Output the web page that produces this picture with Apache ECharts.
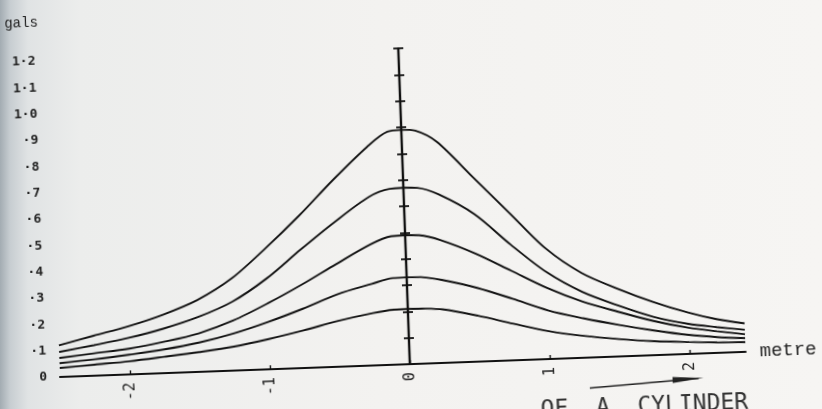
<!DOCTYPE html>
<html>
<head>
<meta charset="utf-8">
<script src="https://cdn.jsdelivr.net/npm/echarts@6/dist/echarts.min.js"></script>
<style>
  html, body { margin: 0; padding: 0; width: 822px; height: 409px; overflow: hidden;
    background: linear-gradient(to right, #a3acb2 0px, #c7cdd1 10px, #e0e3e4 28px, #ecedec 80px, #f3f2f0 380px, #f6f5f3 100%); }
  /* the plotter sheet sits slightly askew */
  #chart { position: absolute; left: -20px; top: -20px; width: 862px; height: 449px; transform: rotate(-2.1deg); }
</style>
</head>
<body>
<div id="chart"></div>
<script>
// horizontal distance from the cylinder axis, metres
const distance = [-2.5, -2.25, -2, -1.75, -1.5, -1.25, -1, -0.75, -0.5, -0.25, -0.1, 0, 0.1, 0.25, 0.5, 0.75, 1, 1.25, 1.5, 1.75, 2, 2.2, 2.4];

// gravity anomaly profiles, gals (largest to smallest)
const profile1 = [0.12, 0.152, 0.183, 0.222, 0.273, 0.35, 0.46, 0.58, 0.71, 0.83, 0.885, 0.89, 0.885, 0.84, 0.70, 0.56, 0.42, 0.322, 0.258, 0.203, 0.157, 0.128, 0.108];
const profile2 = [0.095, 0.116, 0.139, 0.169, 0.208, 0.262, 0.345, 0.45, 0.55, 0.64, 0.668, 0.67, 0.668, 0.64, 0.56, 0.44, 0.33, 0.25, 0.194, 0.146, 0.114, 0.098, 0.084];
const profile3 = [0.072, 0.085, 0.098, 0.119, 0.146, 0.19, 0.25, 0.317, 0.39, 0.46, 0.488, 0.49, 0.488, 0.467, 0.41, 0.34, 0.27, 0.213, 0.17, 0.13, 0.099, 0.082, 0.067];
const profile4 = [0.052, 0.062, 0.075, 0.09, 0.111, 0.141, 0.18, 0.225, 0.275, 0.31, 0.329, 0.33, 0.329, 0.315, 0.28, 0.234, 0.185, 0.15, 0.12, 0.094, 0.072, 0.06, 0.052];
const profile5 = [0.034, 0.042, 0.05, 0.062, 0.075, 0.091, 0.115, 0.143, 0.174, 0.199, 0.209, 0.21, 0.209, 0.203, 0.174, 0.139, 0.106, 0.083, 0.066, 0.053, 0.045, 0.04, 0.037];

// axis ticks and their printed labels
const xTickValues = [-2, -1, 0, 1, 2];
const xTickLabels = ['-2', '-1', '0', '1', '2'];
const yTickLabels = ['0', '·1', '·2', '·3', '·4', '·5', '·6', '·7', '·8', '·9', '1·0', '1·1', '1·2'];

const profiles = [profile1, profile2, profile3, profile4, profile5];
const ink = '#111111';
const textInk = '#222222';

const chart = echarts.init(document.getElementById('chart'), null, { renderer: 'canvas' });

// the scale drawn through x = 0, with ticks crossing it on both sides
const plotterAxis = (ticksInside) => ({
  type: 'value', min: 0, max: 1.2, interval: 0.1,
  axisLine: { show: true, onZero: true, onZeroAxisIndex: 0, lineStyle: { color: ink, width: 2.2 } },
  axisTick: { show: true, inside: ticksInside, length: 5, lineStyle: { color: ink, width: 1.8 } },
  axisLabel: { show: false },
  splitLine: { show: false }
});

chart.setOption({
  animation: false,
  backgroundColor: 'transparent',
  grid: { left: 74, right: 102, top: 68, bottom: 65 },
  xAxis: {
    type: 'value', min: -2.5, max: 2.4,
    name: 'metre', nameLocation: 'end', nameGap: 14,
    nameTextStyle: { fontFamily: 'Liberation Mono', fontSize: 19, color: textInk, padding: [0, 0, 14, 0] },
    axisLine: { onZero: true, lineStyle: { color: ink, width: 2.2 } },
    axisTick: { show: true, inside: true, length: 4, customValues: xTickValues, lineStyle: { color: ink, width: 1.4 } },
    axisLabel: {
      customValues: xTickValues, rotate: 90, margin: 8,
      fontFamily: 'DejaVu Sans Mono', fontSize: 15, color: textInk,
      formatter: (v) => xTickLabels[xTickValues.indexOf(v)] ?? ''
    },
    splitLine: { show: false }
  },
  yAxis: [
    {
      type: 'value', min: 0, max: 1.2, interval: 0.1,
      name: 'gals', nameLocation: 'end', nameGap: 32,
      nameTextStyle: { fontFamily: 'Liberation Mono', fontSize: 14, color: textInk, align: 'center', padding: [0, 52, 0, 0] },
      axisLine: { show: false, onZero: false },
      axisTick: { show: false },
      axisLabel: {
        margin: 13, fontFamily: 'DejaVu Sans Mono', fontSize: 13, fontWeight: 'bold', color: textInk,
        formatter: (v) => yTickLabels[Math.round(v * 10)] ?? ''
      },
      splitLine: { show: false }
    },
    plotterAxis(true),
    plotterAxis(false)
  ],
  series: profiles.map((p) => ({
    type: 'line',
    data: distance.map((x, i) => [x, p[i]]),
    showSymbol: false,
    smooth: 0.3,
    lineStyle: { color: ink, width: 1.9 },
    z: 3
  })),
  graphic: [
    { type: 'line', shape: { x1: 603, y1: 414.5, x2: 712, y2: 408.8 }, style: { stroke: textInk, lineWidth: 1.6 } },
    { type: 'polygon', shape: { points: [[717, 408.5], [686, 406.6], [686, 412.6]] }, style: { fill: textInk } },
    { type: 'text', left: 553, top: 424, style: { text: 'OF  A  CYLINDER', fontFamily: 'DejaVu Sans Mono', fontSize: 23, fill: '#333' } }
  ]
});
</script>
</body>
</html>
